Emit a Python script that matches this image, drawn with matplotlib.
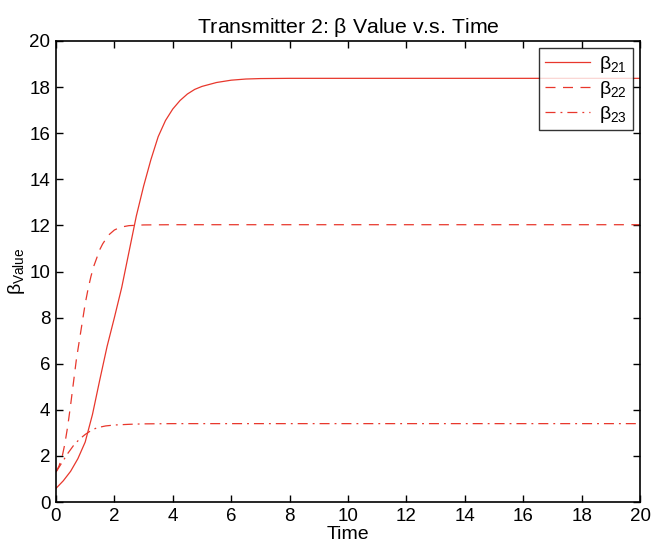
import numpy as np
import matplotlib
matplotlib.use("Agg")
import matplotlib.pyplot as plt

plt.rcParams['font.family'] = ['Liberation Sans', 'DejaVu Sans']
plt.rcParams['mathtext.fontset'] = 'custom'
plt.rcParams['mathtext.rm'] = 'Liberation Sans'
plt.rcParams['mathtext.it'] = 'Liberation Sans'

# beta_21 (solid)
t21 = [0, 0.25, 0.5, 0.75, 1.0, 1.25, 1.5, 1.75, 2.0, 2.25, 2.5, 2.75, 3.0,
       3.25, 3.5, 3.75, 4.0, 4.25, 4.5, 4.75, 5.0, 5.5, 6.0, 6.5, 7.0, 8.0, 20.0]
b21 = [0.59, 0.92, 1.33, 1.88, 2.6, 3.8, 5.3, 6.75, 8.0, 9.3, 10.85, 12.4, 13.7,
       14.85, 15.85, 16.55, 17.05, 17.42, 17.7, 17.9, 18.03, 18.2, 18.3, 18.35,
       18.37, 18.38, 18.38]

# beta_22 (dashed)
t22 = [0, 0.1, 0.2, 0.3, 0.4, 0.5, 0.6, 0.7, 0.8, 0.9, 1.0, 1.1, 1.2, 1.3,
       1.4, 1.5, 1.6, 1.8, 2.0, 2.2, 2.5, 3.0, 4.0, 20.0]
b22 = [1.3, 1.55, 1.9, 2.5, 3.27, 4.2, 5.2, 6.2, 7.0, 7.8, 8.6, 9.25, 9.8, 10.25,
       10.6, 10.95, 11.2, 11.58, 11.8, 11.92, 11.99, 12.02, 12.03, 12.03]

# beta_23 (dash-dot)
t23 = [0, 0.2, 0.4, 0.6, 0.8, 1.0, 1.2, 1.4, 1.7, 2.0, 2.5, 3.0, 4.0, 20.0]
b23 = [1.3, 1.7, 2.1, 2.45, 2.72, 2.93, 3.1, 3.22, 3.3, 3.34, 3.37, 3.39, 3.4, 3.4]

labels = [r'$\beta_{21}$', r'$\beta_{22}$', r'$\beta_{23}$']
xticks = np.arange(0, 21, 2)
yticks = np.arange(0, 21, 2)

red = '#e8372c'

fig = plt.figure(figsize=(6.54, 5.43), dpi=100)
ax = fig.add_axes([0.0856, 0.0755, 0.893, 0.849])

ax.plot(t21, b21, color=red, lw=0.9, ls='-', label=labels[0])
ax.plot(t22, b22, color=red, lw=0.9, ls=(0, (8, 6)), label=labels[1])
ax.plot(t23, b23, color=red, lw=0.9, ls=(0, (8, 4, 1.5, 4)), label=labels[2])

ax.set_xlim(0, 20)
ax.set_ylim(0, 20)
ax.set_xticks(xticks)
ax.set_yticks(yticks)
ax.tick_params(direction='in', top=True, right=True, length=5, width=1,
               labelsize=13.5, pad=4)
for s in ax.spines.values():
    s.set_linewidth(1.2)

ax.set_title(r'Transmitter 2: $\beta$ Value v.s. Time', fontsize=15.3, pad=6)
ax.set_xlabel('Time', fontsize=14, labelpad=1)
ax.set_ylabel(r'$\beta_{\rm Value}$', fontsize=14, labelpad=2)

leg = ax.legend(loc='upper right', bbox_to_anchor=(0.988, 0.985), fontsize=14,
                frameon=True, fancybox=False, edgecolor='black',
                handlelength=2.3, borderaxespad=0.0, borderpad=0.3,
                labelspacing=0.2, handletextpad=0.5)
leg.get_frame().set_linewidth(1.0)

fig.savefig('out.png', dpi=100)
